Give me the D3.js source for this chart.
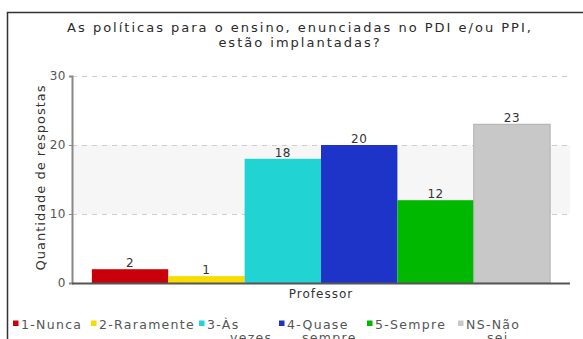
<!DOCTYPE html>
<html>
<head>
<meta charset="utf-8">
<script src="https://cdn.jsdelivr.net/npm/d3@7/dist/d3.min.js"></script>
<style>
  html, body { margin: 0; padding: 0; background: #fff; }
  svg { display: block; font-family: "DejaVu Sans", Verdana, sans-serif; }
</style>
</head>
<body>
<svg id="chart" width="583" height="339"></svg>
<script>
// Answers to the survey question, one bar per option
const categories = ["1-Nunca", "2-Raramente", "3-Às vezes", "4-Quase sempre", "5-Sempre", "NS-Não sei"];
const values = [2, 1, 18, 20, 12, 23];
const colors = ["#c8000a", "#f8dc00", "#22d3d3", "#1e34c8", "#00b800", "#c8c8c8"];
const legendLines = [["1-Nunca"], ["2-Raramente"], ["3-Às", "vezes"], ["4-Quase", "sempre"], ["5-Sempre"], ["NS-Não", "sei"]];
const yTicks = [0, 10, 20, 30];
const titleLines = ["As políticas para o ensino, enunciadas no PDI e/ou PPI,", "estão implantadas?"];
const xTitle = "Professor";
const yTitle = "Quantidade de respostas";

const svg = d3.select("#chart");

// frame around the whole chart
svg.append("rect")
  .attr("x", 7.5).attr("y", 12.5)
  .attr("width", 600).attr("height", 360)
  .attr("fill", "#fff").attr("stroke", "#333").attr("stroke-width", 1.5);

const plot = { left: 72, right: 570, top: 76, bottom: 283 };

const y = d3.scaleLinear().domain([0, 30]).range([plot.bottom, plot.top]);
const x = d3.scaleBand().domain(categories)
  .range([plot.left, plot.right]).paddingInner(0).paddingOuter(0.26);

// alternating background band
svg.append("rect")
  .attr("x", plot.left).attr("width", plot.right - plot.left)
  .attr("y", y(20)).attr("height", y(10) - y(20))
  .attr("fill", "#f6f6f6");

// dashed grid lines
svg.append("g").selectAll("line").data(yTicks.filter(d => d > 0)).join("line")
  .attr("x1", plot.left).attr("x2", plot.right)
  .attr("y1", d => y(d) + 0.5).attr("y2", d => y(d) + 0.5)
  .attr("stroke", "#cfcfcf").attr("stroke-dasharray", "5,5");

// title, two lines
svg.append("g").selectAll("text").data(titleLines).join("text")
  .attr("x", 300).attr("y", (d, i) => 32 + i * 15)
  .attr("text-anchor", "middle").attr("font-size", 13).attr("letter-spacing", 2)
  .attr("fill", "#2a2a2a")
  .text(d => d);

// bars
svg.append("g").selectAll("rect").data(values).join("rect")
  .attr("x", (d, i) => x(categories[i]))
  .attr("width", x.bandwidth())
  .attr("y", d => y(d))
  .attr("height", d => y(0) - y(d))
  .attr("fill", (d, i) => colors[i])
  .attr("stroke", (d, i) => i === 5 ? "#b0b0b0" : "none");

// value labels
svg.append("g").selectAll("text").data(values).join("text")
  .attr("x", (d, i) => x(categories[i]) + x.bandwidth() / 2)
  .attr("y", d => y(d) - 2)
  .attr("text-anchor", "middle").attr("font-size", 12).attr("letter-spacing", 0.5)
  .attr("fill", "#333")
  .text(d => d);

// y axis
const yAxis = svg.append("g")
  .attr("transform", `translate(${plot.left},0)`)
  .call(d3.axisLeft(y).tickValues(yTicks).tickSize(3).tickPadding(3));
yAxis.select(".domain").attr("stroke", "#888").attr("stroke-width", 2);
yAxis.selectAll(".tick line").attr("stroke", "#888");
yAxis.selectAll(".tick text").attr("font-size", 12).attr("fill", "#555")
  .attr("font-family", "DejaVu Sans, sans-serif").attr("letter-spacing", 0.5);

// x baseline
svg.append("line")
  .attr("x1", plot.left).attr("x2", plot.right)
  .attr("y1", plot.bottom + 0.5).attr("y2", plot.bottom + 0.5)
  .attr("stroke", "#555").attr("stroke-width", 2);

// axis titles
svg.append("text")
  .attr("x", (plot.left + plot.right) / 2).attr("y", 298)
  .attr("text-anchor", "middle").attr("font-size", 12).attr("letter-spacing", 1)
  .attr("fill", "#333")
  .text(xTitle);

svg.append("text")
  .attr("transform", `translate(45,${(plot.top + plot.bottom) / 2 - 2}) rotate(-90)`)
  .attr("text-anchor", "middle").attr("font-size", 13).attr("letter-spacing", 1)
  .attr("fill", "#333")
  .text(yTitle);

// legend, one entry per category; wrapped entries continue on a second line
const legendX = [13, 91, 199, 279, 367, 458];
const legendWrapX = [0, 0, 31, 23, 0, 29];
const legend = svg.append("g").selectAll("g").data(categories).join("g")
  .attr("transform", (d, i) => `translate(${legendX[i]},320.5)`);
legend.append("rect")
  .attr("width", 5.5).attr("height", 5.5)
  .attr("fill", (d, i) => colors[i]);
legend.append("text")
  .attr("x", 9).attr("y", 8)
  .attr("font-size", 12.5).attr("letter-spacing", 1.3).attr("fill", "#555")
  .each(function (d, i) {
    const t = d3.select(this);
    legendLines[i].forEach((line, j) => {
      t.append("tspan")
        .attr("x", j ? legendWrapX[i] : 8).attr("dy", j ? 13.5 : 0).text(line);
    });
  });
</script>
</body>
</html>
